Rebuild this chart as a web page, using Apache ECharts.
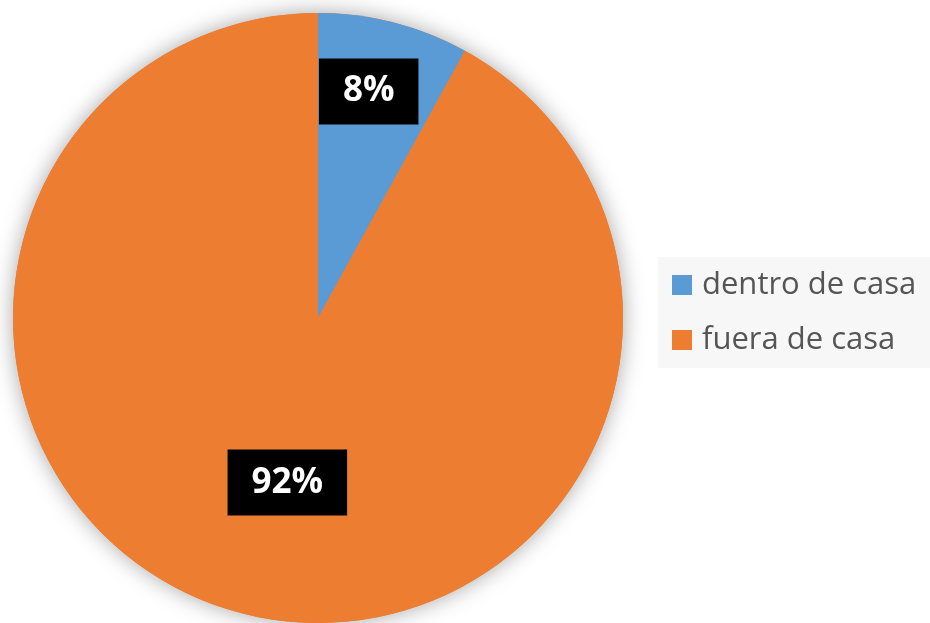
<!DOCTYPE html>
<html>
<head>
<meta charset="utf-8">
<script src="https://cdn.jsdelivr.net/npm/echarts@6/dist/echarts.min.js"></script>
<style>
  html, body { margin: 0; padding: 0; background: #ffffff; }
  #chart { width: 930px; height: 623px; }
</style>
</head>
<body>
<div id="chart"></div>
<script>
// Where the time is spent: share inside vs outside the home
const categories = ['dentro de casa', 'fuera de casa'];
const shares = [8, 92];
const sliceColors = ['#5B9BD5', '#ED7D31'];
// nudges for the value tags, relative to their default inside spot
const labelOffsets = [[12, -76], [8, 14]];

const center = [318, 318];
const radius = 305;

const chart = echarts.init(document.getElementById('chart'), null, { renderer: 'canvas' });

chart.setOption({
  backgroundColor: '#ffffff',
  animation: false,
  legend: {
    orient: 'vertical',
    left: 658,
    top: 257,
    data: categories,
    backgroundColor: '#f7f7f7',
    padding: [10, 40, 10, 14],
    itemWidth: 20,
    itemHeight: 20,
    itemGap: 19,
    icon: 'rect',
    textStyle: {
      fontFamily: 'Open Sans',
      fontSize: 31,
      lineHeight: 36,
      color: '#555555',
      padding: [0, 0, 0, 5]
    }
  },
  series: [
    {
      // soft drop shadow under the whole disc
      type: 'pie',
      silent: true,
      center: center,
      radius: radius,
      startAngle: 90,
      label: { show: false },
      labelLine: { show: false },
      itemStyle: {
        color: sliceColors[1],
        shadowBlur: 22,
        shadowColor: 'rgba(0,0,0,0.35)'
      },
      data: [{ value: 1, name: '' }],
      legendHoverLink: false
    },
    {
      type: 'pie',
      center: center,
      radius: radius,
      startAngle: 90,
      clockwise: true,
      labelLine: { show: false },
      label: {
        show: true,
        position: 'inside',
        formatter: function (p) { return p.value + '%'; },
        color: '#ffffff',
        fontFamily: 'Open Sans',
        fontWeight: 'bold',
        fontSize: 35,
        backgroundColor: '#000000',
        padding: [16, 24, 15, 24]
      },
      itemStyle: { borderWidth: 0 },
      data: categories.map(function (name, i) {
        return {
          name: name,
          value: shares[i],
          itemStyle: { color: sliceColors[i] },
          label: { offset: labelOffsets[i] }
        };
      })
    }
  ]
});
</script>
</body>
</html>
